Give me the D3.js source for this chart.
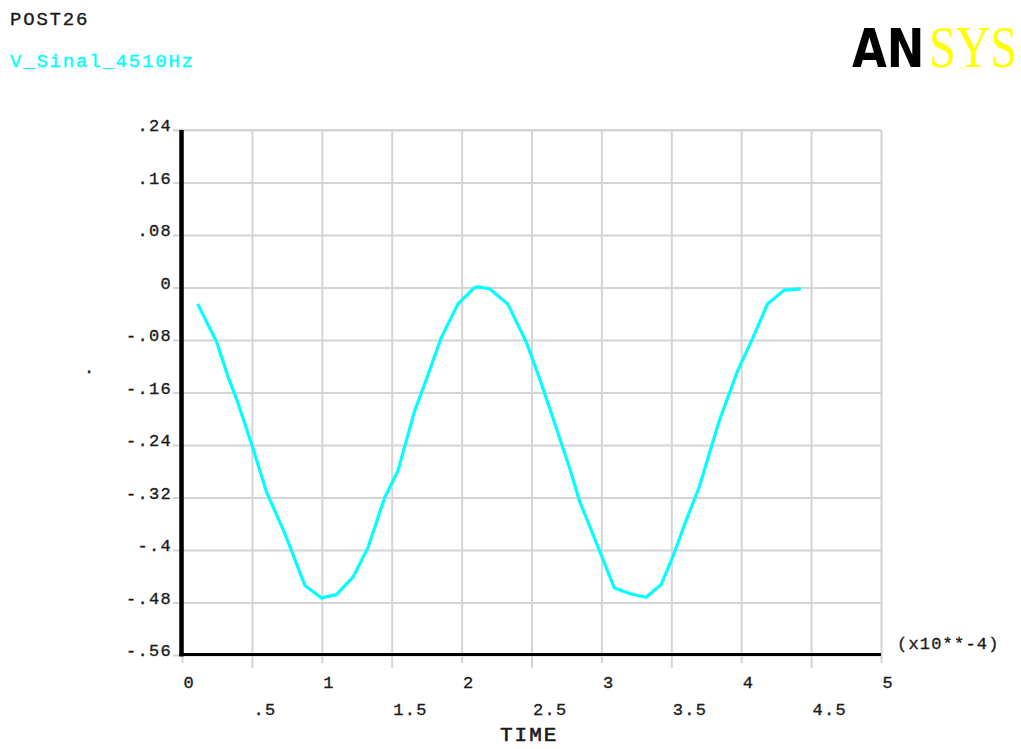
<!DOCTYPE html>
<html>
<head>
<meta charset="utf-8">
<script src="https://cdn.jsdelivr.net/npm/d3@7"></script>
<style>
  html, body { margin: 0; padding: 0; background: #ffffff; }
  svg { display: block; }
  .mono { font-family: "Liberation Mono", "Courier New", monospace; fill: #1a1a1a; stroke: #1a1a1a; stroke-width: 0.35px; }
</style>
</head>
<body>
<svg id="chart" width="1021" height="749"></svg>
<script>
// Time in units of 1e-4 s, voltage in V
const timeValues = [0.112, 0.248, 0.331, 0.402, 0.500, 0.605, 0.736, 0.879, 0.998, 1.105, 1.224, 1.331, 1.450, 1.545, 1.664, 1.736, 1.855, 1.974, 2.093, 2.117, 2.200, 2.330, 2.462, 2.560, 2.652, 2.771, 2.843, 2.986, 3.093, 3.212, 3.319, 3.426, 3.510, 3.600, 3.700, 3.843, 3.974, 4.081, 4.188, 4.307, 4.426];
const voltValues = [-0.025, -0.083, -0.137, -0.177, -0.240, -0.312, -0.375, -0.454, -0.473, -0.468, -0.441, -0.396, -0.320, -0.279, -0.188, -0.147, -0.076, -0.025, 0.000, 0.001, -0.002, -0.025, -0.083, -0.140, -0.198, -0.274, -0.325, -0.401, -0.458, -0.467, -0.472, -0.453, -0.411, -0.358, -0.304, -0.203, -0.127, -0.078, -0.025, -0.004, -0.002];

const yTickValues = [-0.56, -0.48, -0.40, -0.32, -0.24, -0.16, -0.08, 0, 0.08, 0.16, 0.24];
const yTickLabels = ["-.56", "-.48", "-.4", "-.32", "-.24", "-.16", "-.08", "0", ".08", ".16", ".24"];
const xMajorTicks = [0, 1, 2, 3, 4, 5];
const xMajorLabels = ["0", "1", "2", "3", "4", "5"];
const xMinorTicks = [0.5, 1.5, 2.5, 3.5, 4.5];
const xMinorLabels = [".5", "1.5", "2.5", "3.5", "4.5"];

const svg = d3.select("#chart");
const x = d3.scaleLinear().domain([0, 5]).range([182, 881]);
const y = d3.scaleLinear().domain([-0.56, 0.24]).range([655, 130]);

const gridColor = "#d4d4d4";

// Horizontal grid + y labels
const yAxis = d3.axisLeft(y)
  .tickValues(yTickValues)
  .tickFormat((d, i) => yTickLabels[i])
  .tickSize(-(x(5) - 173))
  .tickPadding(1);
const gy = svg.append("g").attr("transform", "translate(173,0)").call(yAxis);
gy.select(".domain").remove();
gy.selectAll(".tick line").attr("stroke", gridColor).attr("stroke-width", 2);
gy.selectAll(".tick text")
  .attr("class", "mono")
  .attr("dy", "0.05em")
  .style("font-size", "17px")
  .style("letter-spacing", "1.3px");

// Vertical grid at whole units
const xAxisMajor = d3.axisBottom(x)
  .tickValues(xMajorTicks)
  .tickFormat((d, i) => xMajorLabels[i])
  .tickSize(663 - 130)
  .tickPadding(0);
const gx1 = svg.append("g").attr("transform", "translate(0,130)").call(xAxisMajor);
gx1.select(".domain").remove();
gx1.selectAll(".tick line").attr("stroke", gridColor).attr("stroke-width", 2);
gx1.selectAll(".tick text")
  .attr("class", "mono")
  .attr("text-anchor", "start")
  .attr("x", 1)
  .attr("y", 688 - 130)
  .attr("dy", 0)
  .style("font-size", "17px")
  .style("letter-spacing", "1.3px");

// Vertical grid at half units
const xAxisMinor = d3.axisBottom(x)
  .tickValues(xMinorTicks)
  .tickFormat((d, i) => xMinorLabels[i])
  .tickSize(668 - 130)
  .tickPadding(0);
const gx2 = svg.append("g").attr("transform", "translate(0,130)").call(xAxisMinor);
gx2.select(".domain").remove();
gx2.selectAll(".tick line").attr("stroke", gridColor).attr("stroke-width", 2);
gx2.selectAll(".tick text")
  .attr("class", "mono")
  .attr("text-anchor", "start")
  .attr("x", 1)
  .attr("y", 715 - 130)
  .attr("dy", 0)
  .style("font-size", "17px")
  .style("letter-spacing", "1.3px");

// Top border of grid
svg.append("line")
  .attr("x1", 173).attr("x2", x(5))
  .attr("y1", y(0.24)).attr("y2", y(0.24))
  .attr("stroke", gridColor).attr("stroke-width", 2);

// Axis lines
svg.append("line")
  .attr("x1", x(0) - 2.5).attr("x2", x(5))
  .attr("y1", y(-0.56) - 0.5).attr("y2", y(-0.56) - 0.5)
  .attr("stroke", "#000").attr("stroke-width", 3);
svg.append("line")
  .attr("x1", x(0) - 0.5).attr("x2", x(0) - 0.5)
  .attr("y1", y(0.24)).attr("y2", y(-0.56) + 1.5)
  .attr("stroke", "#000").attr("stroke-width", 4.5);

// Signal curve (straight segments between samples)
const line = d3.line()
  .x((d, i) => x(timeValues[i]))
  .y(d => y(d));
svg.append("path")
  .datum(voltValues)
  .attr("d", line)
  .attr("fill", "none")
  .attr("stroke", "#00ffff")
  .attr("stroke-width", 3.2)
  .attr("stroke-linejoin", "round");

// Axis titles
svg.append("text").attr("class", "mono")
  .attr("x", 500).attr("y", 741)
  .style("font-size", "21px").style("letter-spacing", "2px")
  .style("stroke-width", "0.6px")
  .text("TIME");
svg.append("text").attr("class", "mono")
  .attr("x", 897).attr("y", 649)
  .style("font-size", "17px").style("letter-spacing", "1.2px")
  .text("(x10**-4)");
svg.append("text").attr("class", "mono")
  .attr("x", 84).attr("y", 373)
  .style("font-size", "17px")
  .text(".");

// Header
svg.append("text").attr("class", "mono")
  .attr("x", 10).attr("y", 25)
  .style("font-size", "19px").style("letter-spacing", "1.8px")
  .text("POST26");
svg.append("text").attr("class", "mono")
  .attr("x", 10).attr("y", 67)
  .style("font-size", "19px").style("letter-spacing", "1.8px")
  .style("fill", "#00ffff").style("stroke", "#00ffff")
  .text("V_Sinal_4510Hz");

// Logo
svg.append("text")
  .attr("transform", "translate(852,67) scale(1,1.2)")
  .style("font-family", "'DejaVu Sans', sans-serif")
  .style("font-weight", "bold")
  .style("font-size", "45px")
  .style("fill", "#000")
  .text("AN");
svg.append("text")
  .attr("transform", "translate(929,67) scale(1,1.25)")
  .style("font-family", "'Liberation Serif', serif")
  .style("font-size", "48px")
  .style("fill", "#ffff00")
  .text("SYS");
</script>
</body>
</html>
